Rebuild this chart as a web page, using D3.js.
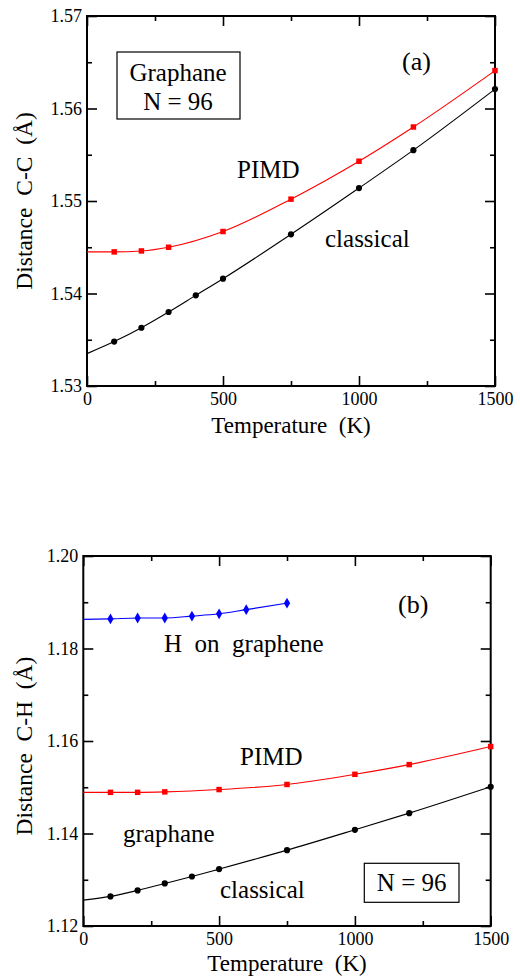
<!DOCTYPE html>
<html>
<head>
<meta charset="utf-8">
<script src="https://cdn.jsdelivr.net/npm/d3@7"></script>
<style>
body { margin: 0; background: #fff; }
svg text { font-family: "Liberation Serif", "Times New Roman", serif; fill: #000; }
</style>
</head>
<body>
<div id="chart"></div>
<script>
// panel (a): distanza C-C
const tempA = [100, 200, 300, 400, 500, 750, 1000, 1200, 1500];
const ccClassical = [1.5348, 1.5363, 1.5380, 1.5398, 1.5416, 1.5464, 1.5514, 1.5555, 1.5621];
const tempPimdA = [100, 200, 300, 500, 750, 1000, 1200, 1500];
const ccPimd = [1.5445, 1.5446, 1.5450, 1.5467, 1.5502, 1.5543, 1.5580, 1.5641];
const ccClassical0 = 1.5335; // curva di fit a T = 0
const ccPimd0 = 1.5445;

// panel (b): distanza C-H
const tempB = [100, 200, 300, 400, 500, 750, 1000, 1200, 1500];
const chClassical = [1.1264, 1.1277, 1.1292, 1.1307, 1.1323, 1.1364, 1.1408, 1.1444, 1.1501];
const tempPimdB = [100, 200, 300, 500, 750, 1000, 1200, 1500];
const chPimd = [1.1489, 1.1489, 1.1490, 1.1495, 1.1506, 1.1528, 1.1549, 1.1588];
const tempH = [100, 200, 300, 400, 500, 600, 750];
const chHgraphene = [1.1864, 1.1866, 1.1866, 1.1870, 1.1875, 1.1884, 1.1898];
const chClassical0 = 1.1256;
const chPimd0 = 1.1489;
const chH0 = 1.1863;

// tick
const xTicks = [0, 500, 1000, 1500];
const xMinor = [250, 750, 1250];
const yTicksA = [1.53, 1.54, 1.55, 1.56, 1.57];
const yMinorA = [1.535, 1.545, 1.555, 1.565];
const yTicksB = [1.12, 1.14, 1.16, 1.18, 1.20];
const yMinorB = [1.13, 1.15, 1.17, 1.19];

const svg = d3.select("#chart").append("svg")
    .attr("width", 520)
    .attr("height", 977);

function drawPanel(p) {
    const x = d3.scaleLinear().domain([0, 1500]).range([p.left, p.right]);
    const y = d3.scaleLinear().domain(p.yDomain).range([p.bottom, p.top]);
    const g = svg.append("g");

    // assi: tick interni su tutti i lati
    const axes = [
        [d3.axisBottom(x).tickValues(xTicks).tickFormat(d3.format("d")), p.bottom, "x", 10],
        [d3.axisBottom(x).tickValues(xMinor).tickFormat(""), p.bottom, "x", 5],
        [d3.axisTop(x).tickValues(xTicks).tickFormat(""), p.top, "x", 10],
        [d3.axisTop(x).tickValues(xMinor).tickFormat(""), p.top, "x", 5],
        [d3.axisLeft(y).tickValues(p.yTicks).tickFormat(d3.format(".2f")), p.left, "y", 10],
        [d3.axisLeft(y).tickValues(p.yMinor).tickFormat(""), p.left, "y", 5],
        [d3.axisRight(y).tickValues(p.yTicks).tickFormat(""), p.right, "y", 10],
        [d3.axisRight(y).tickValues(p.yMinor).tickFormat(""), p.right, "y", 5]
    ];
    axes.forEach(([ax, pos, dir, len]) => {
        const a = g.append("g")
            .attr("transform", dir === "x" ? `translate(0,${pos})` : `translate(${pos},0)`)
            .call(ax.tickSize(-len).tickSizeOuter(0).tickPadding(dir === "x" ? 6 : 5));
        a.select(".domain").remove();
        a.selectAll("line").attr("stroke", "#000").attr("stroke-width", 1.6);
        a.selectAll("text")
            .attr("font-family", "Liberation Serif, serif")
            .attr("font-size", 18)
            .attr("fill", "#000");
    });

    // cornice
    g.append("rect")
        .attr("x", p.left).attr("y", p.top)
        .attr("width", p.right - p.left).attr("height", p.bottom - p.top)
        .attr("fill", "none").attr("stroke", "#000").attr("stroke-width", 2);

    const line = d3.line()
        .x(d => x(d[0]))
        .y(d => y(d[1]))
        .curve(d3.curveMonotoneX);

    p.series.forEach(s => {
        const pts = s.temps.map((t, i) => [t, s.values[i]]);
        g.append("path")
            .datum([[0, s.start]].concat(pts))
            .attr("d", line)
            .attr("fill", "none")
            .attr("stroke", s.color)
            .attr("stroke-width", 1.1);

        const sym = s.shape === "square" ? d3.symbolSquare : s.shape === "diamond" ? d3.symbolDiamond : d3.symbolCircle;
        const size = s.shape === "square" ? 30 : s.shape === "diamond" ? 34 : 30;
        g.append("g")
            .selectAll("path")
            .data(pts)
            .join("path")
            .attr("transform", d => `translate(${x(d[0])},${y(d[1])})`)
            .attr("d", d3.symbol().type(sym).size(size))
            .attr("fill", s.color);
    });

    // titoli assi
    g.append("text")
        .attr("x", (p.left + p.right) / 2)
        .attr("y", p.xTitleY)
        .attr("text-anchor", "middle")
        .attr("font-size", 23)
        .style("white-space", "pre")
        .text("Temperature  (K)");
    g.append("text")
        .attr("transform", `translate(32,${p.yTitleY}) rotate(-90)`)
        .attr("text-anchor", "middle")
        .attr("font-size", 23.5)
        .style("white-space", "pre")
        .text(p.yTitle);

    // etichette
    p.labels.forEach(l => {
        g.append("text")
            .attr("x", l.x).attr("y", l.y)
            .attr("text-anchor", l.anchor || "start")
            .attr("font-size", l.size || 25)
            .style("white-space", "pre")
            .text(l.text);
    });
    p.boxes.forEach(b => {
        g.append("rect")
            .attr("x", b.x).attr("y", b.y)
            .attr("width", b.w).attr("height", b.h)
            .attr("fill", "none").attr("stroke", "#000").attr("stroke-width", 1.2);
    });
}

drawPanel({
    left: 87, right: 495, top: 16, bottom: 386,
    yDomain: [1.53, 1.57], yTicks: yTicksA, yMinor: yMinorA,
    yTitle: "Distance  C-C  (Å)", yTitleY: 201, xTitleY: 433,
    series: [
        { temps: tempPimdA, values: ccPimd, start: ccPimd0, color: "#ff0000", shape: "square" },
        { temps: tempA, values: ccClassical, start: ccClassical0, color: "#000000", shape: "circle" }
    ],
    labels: [
        { text: "(a)", x: 402, y: 70, size: 26 },
        { text: "PIMD", x: 237, y: 178 },
        { text: "classical", x: 325, y: 247 },
        { text: "Graphane", x: 178, y: 81, anchor: "middle" },
        { text: "N = 96", x: 178, y: 110, anchor: "middle" }
    ],
    boxes: [{ x: 117, y: 52, w: 123, h: 67 }]
});

drawPanel({
    left: 83.3, right: 490.7, top: 556, bottom: 926,
    yDomain: [1.12, 1.20], yTicks: yTicksB, yMinor: yMinorB,
    yTitle: "Distance  C-H  (Å)", yTitleY: 746, xTitleY: 971,
    series: [
        { temps: tempH, values: chHgraphene, start: chH0, color: "#0000ff", shape: "diamond" },
        { temps: tempPimdB, values: chPimd, start: chPimd0, color: "#ff0000", shape: "square" },
        { temps: tempB, values: chClassical, start: chClassical0, color: "#000000", shape: "circle" }
    ],
    labels: [
        { text: "(b)", x: 398, y: 613, size: 26 },
        { text: "H  on  graphene", x: 164, y: 652 },
        { text: "PIMD", x: 240, y: 765 },
        { text: "graphane", x: 123, y: 842 },
        { text: "classical", x: 220, y: 898 },
        { text: "N = 96", x: 411.7, y: 891, anchor: "middle" }
    ],
    boxes: [{ x: 364.3, y: 863.3, w: 94.7, h: 39 }]
});
</script>
</body>
</html>
